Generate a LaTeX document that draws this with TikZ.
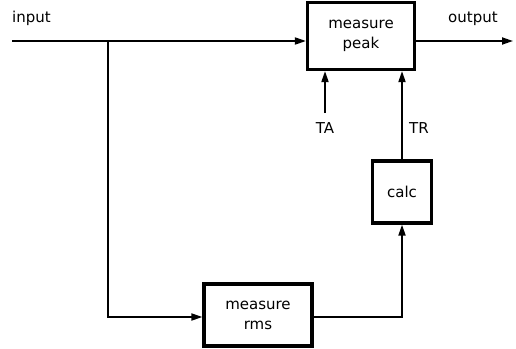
\documentclass[tikz,border=0pt]{standalone}
\usepackage{fontspec}
\setmainfont{DejaVu Sans}
\usetikzlibrary{arrows.meta}
\begin{document}
\begin{tikzpicture}[x=1pt,y=-1pt,
  blk/.style={draw,line width=3.2pt,inner sep=0pt,align=center,font=\fontsize{15}{20}\selectfont},
  conn/.style={line width=1.8pt,-{Triangle[length=11pt,width=7pt]}},
  lbl/.style={font=\fontsize{15}{17}\selectfont,inner sep=0pt}]
\useasboundingbox (0,0) rectangle (516,348);
\node[blk,minimum width=107pt,minimum height=67pt] (peak) at (361,36) {measure\\peak};
\node[blk,minimum width=59pt,minimum height=62pt] (calc) at (402,192) {calc};
\node[blk,minimum width=108pt,minimum height=62pt] (rms) at (258,315) {measure\\rms};
\coordinate (in) at (12,41);
\coordinate (j) at (108,41);
\coordinate (out) at (513,41);
\coordinate (ta) at (325,113);
\node[lbl,anchor=south west] (inlbl) at (12,26) {input};
\node[lbl,anchor=south west] (outlbl) at (448,26) {output};
\node[lbl] (talbl) at (325,128) {TA};
\node[lbl,anchor=west] (trlbl) at (409,128) {TR};
\draw[conn] (in) -- (peak.west |- in);
\draw[conn] (peak.east |- out) -- (out);
\draw[conn] (j) |- (rms.west |- 0,317);
\draw[conn] (rms.east |- 0,317) -| (calc.south);
\draw[conn] (calc.north) -- (calc.north |- peak.south);
\draw[conn] (ta) -- (ta |- peak.south);
\end{tikzpicture}
\end{document}
